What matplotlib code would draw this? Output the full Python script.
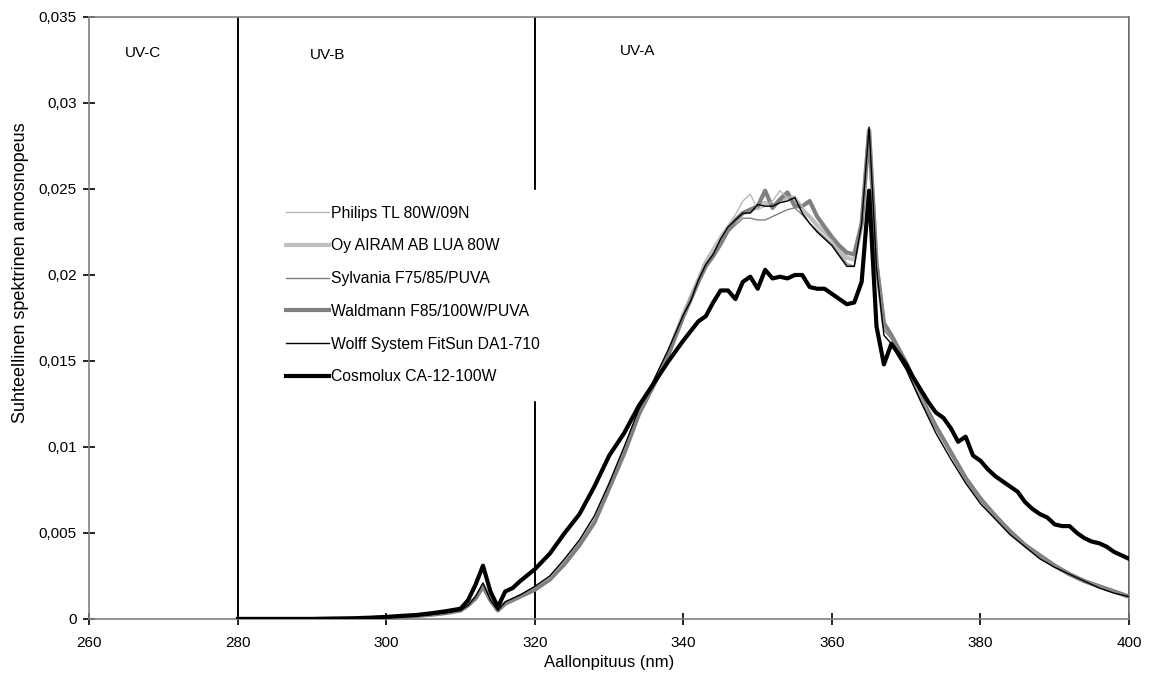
import matplotlib
matplotlib.use("Agg")
import matplotlib.pyplot as plt

plt.rcParams['font.family'] = ['Liberation Sans', 'DejaVu Sans']

# wavelength grid for the five similar lamps (nm)
wl_a = [280, 285, 290, 295, 298, 300, 302, 304, 306, 308, 310, 311, 312, 313, 314,
        315, 316, 318, 320, 322, 324, 326, 328, 330, 332, 334, 336, 338, 340, 341,
        342, 343, 344, 345, 346, 347, 348, 349, 350, 351, 352, 353, 354, 355, 356,
        357, 358, 359, 360, 361, 362, 363, 364, 365, 366, 367, 368, 369, 370, 372,
        374, 376, 378, 380, 382, 384, 386, 388, 390, 392, 394, 396, 398, 400]

philips = [0, 0, 0, 0.00003, 0.00005, 0.00008, 0.00012, 0.00018, 0.00025, 0.00035, 0.0005,
           0.0008, 0.0013, 0.0019, 0.0011, 0.0005, 0.0009, 0.0013, 0.0018, 0.0024, 0.0034,
           0.0045, 0.0058, 0.0079, 0.0099, 0.0122, 0.0138, 0.0157, 0.0179, 0.0189, 0.0199,
           0.0209, 0.0216, 0.0223, 0.0229, 0.0235, 0.0243, 0.0247, 0.0238, 0.0240, 0.0243,
           0.0249, 0.0245, 0.0246, 0.0240, 0.0233, 0.0228, 0.0224, 0.0220, 0.0214, 0.0207,
           0.0205, 0.0228, 0.0283, 0.0205, 0.0169, 0.0163, 0.0155, 0.0147, 0.0128, 0.0111,
           0.0096, 0.0081, 0.0069, 0.0060, 0.0050, 0.0043, 0.0036, 0.0031, 0.0026, 0.0022,
           0.0019, 0.0016, 0.0013]

airam = [0, 0, 0, 0.00003, 0.00005, 0.00008, 0.00012, 0.00018, 0.00025, 0.00035, 0.0005,
         0.0008, 0.0012, 0.0019, 0.0011, 0.0005, 0.0009, 0.0013, 0.0018, 0.0023, 0.0033,
         0.0044, 0.0057, 0.0077, 0.0097, 0.0120, 0.0136, 0.0155, 0.0177, 0.0187, 0.0197,
         0.0207, 0.0213, 0.0220, 0.0226, 0.0231, 0.0236, 0.0237, 0.0240, 0.0242, 0.0240,
         0.0243, 0.0245, 0.0244, 0.0238, 0.0234, 0.0229, 0.0225, 0.0221, 0.0215, 0.0210,
         0.0209, 0.0229, 0.0284, 0.0206, 0.0170, 0.0164, 0.0156, 0.0147, 0.0128, 0.0112,
         0.0097, 0.0082, 0.0069, 0.0060, 0.0050, 0.0043, 0.0036, 0.0031, 0.0026, 0.0022,
         0.0019, 0.0016, 0.0013]

sylvania = [0, 0, 0, 0.00003, 0.00005, 0.00008, 0.00012, 0.00018, 0.00025, 0.00035, 0.0005,
            0.0008, 0.0012, 0.0019, 0.0011, 0.0005, 0.0009, 0.0013, 0.0018, 0.0023, 0.0033,
            0.0044, 0.0057, 0.0077, 0.0097, 0.0120, 0.0136, 0.0155, 0.0177, 0.0187, 0.0197,
            0.0206, 0.0212, 0.0219, 0.0225, 0.0229, 0.0233, 0.0233, 0.0232, 0.0232, 0.0234,
            0.0236, 0.0238, 0.0239, 0.0235, 0.0230, 0.0226, 0.0222, 0.0218, 0.0212, 0.0206,
            0.0205, 0.0228, 0.0285, 0.0205, 0.0168, 0.0163, 0.0155, 0.0146, 0.0127, 0.0111,
            0.0096, 0.0081, 0.0069, 0.0060, 0.0050, 0.0043, 0.0036, 0.0031, 0.0026, 0.0022,
            0.0019, 0.0016, 0.0013]

waldmann = [0, 0, 0, 0.00003, 0.00005, 0.00008, 0.00012, 0.00018, 0.00025, 0.00035, 0.0005,
            0.0008, 0.0012, 0.0019, 0.0011, 0.0005, 0.0009, 0.0013, 0.0017, 0.0023, 0.0032,
            0.0043, 0.0056, 0.0076, 0.0096, 0.0119, 0.0136, 0.0154, 0.0176, 0.0186, 0.0196,
            0.0205, 0.0211, 0.0218, 0.0226, 0.0232, 0.0236, 0.0238, 0.0240, 0.0249, 0.0239,
            0.0244, 0.0248, 0.0240, 0.0240, 0.0243, 0.0234, 0.0228, 0.0222, 0.0217, 0.0213,
            0.0212, 0.0230, 0.0284, 0.0207, 0.0172, 0.0165, 0.0157, 0.0149, 0.0129, 0.0112,
            0.0097, 0.0082, 0.0070, 0.0060, 0.0051, 0.0043, 0.0037, 0.0031, 0.0026, 0.0022,
            0.0019, 0.0016, 0.0013]

wolff = [0, 0, 0, 0.00003, 0.00005, 0.00008, 0.00012, 0.00018, 0.00025, 0.00035, 0.0005,
         0.0008, 0.0013, 0.0021, 0.0011, 0.0005, 0.0010, 0.0014, 0.0019, 0.0025, 0.0035,
         0.0046, 0.0060, 0.0079, 0.0100, 0.0122, 0.0139, 0.0157, 0.0177, 0.0185, 0.0197,
         0.0206, 0.0212, 0.0221, 0.0228, 0.0232, 0.0236, 0.0236, 0.0241, 0.0240, 0.0240,
         0.0242, 0.0243, 0.0245, 0.0236, 0.0230, 0.0225, 0.0221, 0.0217, 0.0211, 0.0205,
         0.0205, 0.0230, 0.0286, 0.0204, 0.0165, 0.0160, 0.0152, 0.0145, 0.0126, 0.0108,
         0.0093, 0.0079, 0.0067, 0.0058, 0.0049, 0.0042, 0.0035, 0.0030, 0.0026, 0.0022,
         0.0018, 0.0015, 0.0013]

# Cosmolux has its own grid
wl_c = [280, 290, 295, 298, 300, 302, 304, 306, 308, 310, 311, 312, 313, 314, 315, 316,
        317, 318, 320, 322, 324, 326, 328, 330, 332, 334, 336, 338, 340, 342, 343, 344,
        345, 346, 347, 348, 349, 350, 351, 352, 353, 354, 355, 356, 357, 358, 359, 360,
        361, 362, 363, 364, 365, 366, 367, 368, 369, 370, 371, 372, 373, 374, 375, 376,
        377, 378, 379, 380, 381, 382, 383, 384, 385, 386, 387, 388, 389, 390, 391, 392,
        393, 394, 395, 396, 397, 398, 399, 400]

cosmolux = [0, 0, 0.00003, 0.00008, 0.00012, 0.00018, 0.00023, 0.00033, 0.00045, 0.0006,
            0.0011, 0.0020, 0.0031, 0.0016, 0.0007, 0.0016, 0.0018, 0.0022, 0.0029, 0.0038,
            0.0050, 0.0061, 0.0077, 0.0095, 0.0108, 0.0124, 0.0137, 0.0150, 0.0162, 0.0173,
            0.0176, 0.0184, 0.0191, 0.0191, 0.0186, 0.0196, 0.0199, 0.0192, 0.0203, 0.0198,
            0.0199, 0.0198, 0.0200, 0.0200, 0.0193, 0.0192, 0.0192, 0.0189, 0.0186, 0.0183,
            0.0184, 0.0196, 0.0249, 0.0170, 0.0148, 0.0160, 0.0154, 0.0148, 0.0140, 0.0133,
            0.0126, 0.0120, 0.0117, 0.0111, 0.0103, 0.0106, 0.0095, 0.0092, 0.0087, 0.0083,
            0.0080, 0.0077, 0.0074, 0.0068, 0.0064, 0.0061, 0.0059, 0.0055, 0.0054, 0.0054,
            0.0050, 0.0047, 0.0045, 0.0044, 0.0042, 0.0039, 0.0037, 0.0035]

x_ticks = [260, 280, 300, 320, 340, 360, 380, 400]
y_ticks = [0, 0.005, 0.01, 0.015, 0.02, 0.025, 0.03, 0.035]
y_labels = ["0", "0,005", "0,01", "0,015", "0,02", "0,025", "0,03", "0,035"]

fig = plt.figure(figsize=(11.5, 6.77), dpi=100)
ax = fig.add_axes([0.0778, 0.0857, 0.9039, 0.8892])

ax.plot(wl_a, philips, color="#b8b8b8", lw=1.0, label="Philips TL 80W/09N", zorder=3)
ax.plot(wl_a, airam, color="#c0c0c0", lw=3.0, label="Oy AIRAM AB LUA 80W", zorder=2)
ax.plot(wl_a, sylvania, color="#808080", lw=1.0, label="Sylvania F75/85/PUVA", zorder=3)
ax.plot(wl_a, waldmann, color="#808080", lw=3.0, label="Waldmann F85/100W/PUVA", zorder=2)
ax.plot(wl_a, wolff, color="black", lw=1.0, label="Wolff System FitSun DA1-710", zorder=4)
ax.plot(wl_c, cosmolux, color="black", lw=3.0, label="Cosmolux CA-12-100W", zorder=5)

for w in (280, 320, 400):
    ax.axvline(w, color="black", lw=1.4, zorder=1)

ax.text(264.8, 0.0329, "UV-C", fontsize=11, va="center")
ax.text(289.7, 0.0328, "UV-B", fontsize=11, va="center")
ax.text(331.4, 0.0330, "UV-A", fontsize=11, va="center")

ax.set_xlim(260, 400)
ax.set_ylim(0, 0.035)
ax.set_xticks(x_ticks)
ax.set_yticks(y_ticks)
ax.set_yticklabels(y_labels)
ax.tick_params(direction="inout", length=8, width=1.2, color="black", labelsize=11)
ax.tick_params(axis="x", pad=8)
ax.tick_params(axis="y", pad=5)

for s in ax.spines.values():
    s.set_color("#808080")
    s.set_linewidth(1.2)

ax.set_xlabel("Aallonpituus (nm)", fontsize=12, labelpad=4)
ax.set_ylabel("Suhteellinen spektrinen annosnopeus", fontsize=13)
ax.yaxis.set_label_coords(-0.058, 0.575)

leg = ax.legend(loc="upper left", bbox_to_anchor=(270 / 1150, 1 - 190 / 677),
                bbox_transform=fig.transFigure, fontsize=11.3, frameon=True,
                facecolor="white", edgecolor="white", framealpha=1, fancybox=False,
                handlelength=2.75, handletextpad=0.12, labelspacing=1.13, borderpad=1.0,
                borderaxespad=0)
leg.set_zorder(10)

fig.savefig("out.png", dpi=100)
